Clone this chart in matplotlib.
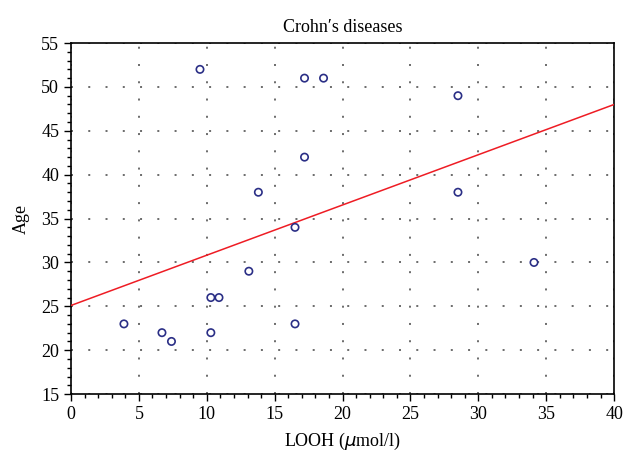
import matplotlib
matplotlib.use("Agg")
import matplotlib.pyplot as plt
from matplotlib.ticker import MultipleLocator

# LOOH (umol/l) vs age, Crohn's disease patients
looh = [3.9, 6.7, 7.4, 9.5, 10.3, 10.9, 10.3, 13.1, 13.8, 16.5, 16.5,
        17.2, 17.2, 18.6, 28.5, 28.5, 34.1]
age = [23, 22, 21, 52, 26, 26, 22, 29, 38, 34, 23,
       51, 42, 51, 49, 38, 30]

# regression line shown in the figure
fit_intercept = 25.1
fit_slope = 0.5725
fit_x = [0, 40]

plt.rcParams["font.family"] = ["Liberation Serif", "DejaVu Serif"]

fig = plt.figure(figsize=(6.26, 4.53), dpi=100)
ax = fig.add_axes([0.1134, 0.130, 0.8676, 0.775])

ax.plot(fit_x, [fit_intercept + fit_slope * x for x in fit_x], color="#ee1c24", lw=1.1, zorder=3)
ax.scatter(looh, age, s=28, facecolors="none", edgecolors="#2b2f86", linewidths=1.2, zorder=4)

ax.set_xlim(0, 40)
ax.set_ylim(15, 55)
ax.xaxis.set_major_locator(MultipleLocator(5))
ax.xaxis.set_minor_locator(MultipleLocator(1))
ax.yaxis.set_major_locator(MultipleLocator(5))
ax.yaxis.set_minor_locator(MultipleLocator(1))
ax.tick_params(which="major", direction="out", length=5, width=1, labelsize=13, color="black")
ax.tick_params(which="minor", direction="out", length=3, width=1)
ax.grid(True, which="major", linestyle=(0, (1.3, 10)), color="#444444", lw=1.1)

for s in ax.spines.values():
    s.set_linewidth(1.2)

ax.set_title("Crohn\u2032s diseases", fontsize=13, pad=8)
ax.set_xlabel("LOOH ($\\mu$mol/l)", fontsize=13, labelpad=6)
ax.set_ylabel("Age", fontsize=13, labelpad=8)

fig.savefig("out.png", dpi=100)
